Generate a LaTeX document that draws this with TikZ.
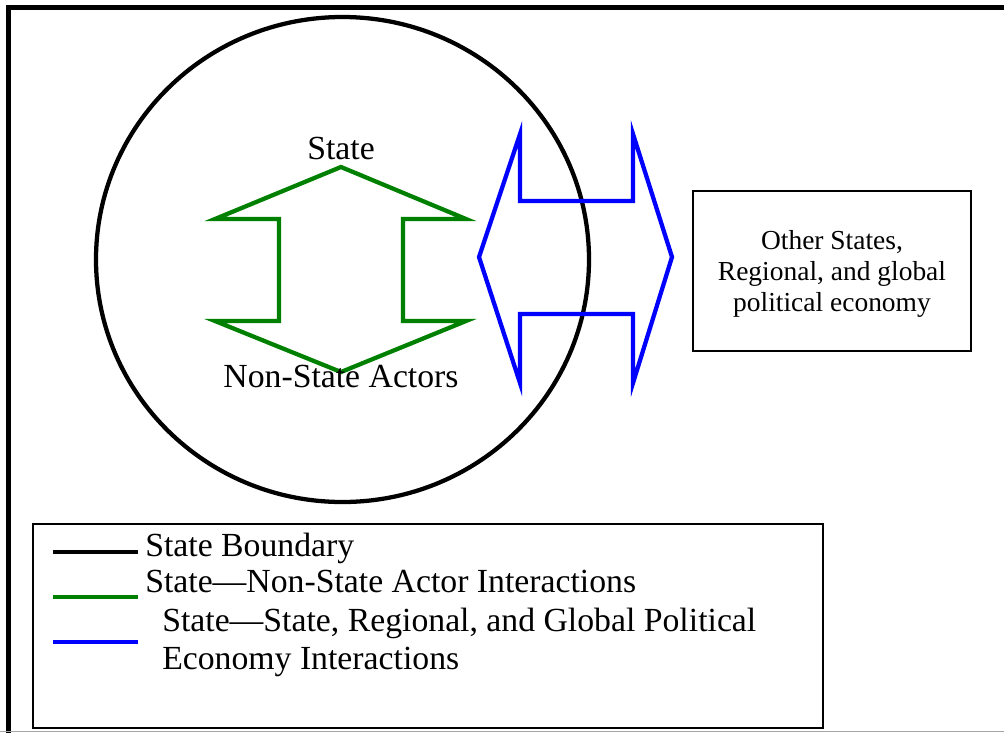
\documentclass[tikz,border=0pt]{standalone}
\usepackage{fontspec}
\setmainfont{Liberation Serif}
\definecolor{actgreen}{RGB}{0,128,0}
\definecolor{ipeblue}{RGB}{0,0,255}
\begin{document}
\begin{tikzpicture}[x=0.75pt,y=-0.75pt,
  bigtext/.style={font=\fontsize{25.3}{30}\selectfont, inner sep=0pt},
  boxtext/.style={font=\fontsize{20.6}{23}\selectfont, align=center},
  greenarrow/.style={draw=actgreen, line width=3.2pt, line join=miter},
  bluearrow/.style={draw=ipeblue, line width=3.2pt, line join=miter},
  keyline/.style={line width=3pt}]
\useasboundingbox (0,0) rectangle (1004,733);

% outer frame
\draw[line width=3.75pt] (8,733) -- (8,7.5) -- (1010,7.5);
\draw[gray!70, line width=1.2pt] (0,731.5) -- (1004,731.5);

% state boundary
\draw[line width=3.2pt] (342.5,259.5) ellipse [x radius=246.5, y radius=242.5];

% state <-> non-state actors
\draw[greenarrow] (341,167) -- (466,219) -- (403,219) -- (403,321) -- (466,321)
  -- (341,372) -- (215,321) -- (279,321) -- (279,219) -- (215,219) -- cycle;

% state <-> other states
\draw[bluearrow] (479,257) -- (520,134) -- (520,201) -- (633,201) -- (633,134)
  -- (672,257) -- (633,383) -- (633,314) -- (520,314) -- (520,383) -- cycle;

\node[bigtext, anchor=base] (state) at (341,159) {State};
\node[bigtext, anchor=base] (nsa) at (341,387) {Non-State Actors};

\node[draw, line width=1.5pt, minimum width=208.5pt, minimum height=120pt, boxtext]
  (other) at (832,271) {};
\node[boxtext] (othertext) at (832,274) {Other States,\\Regional, and global\\political economy};

% legend
\node[draw, line width=1.5pt, minimum width=592.5pt, minimum height=153pt] (legend) at (427.5,626) {};
\coordinate (k1a) at (53,552); \coordinate (k1b) at (138,552);
\coordinate (k2a) at (53,597); \coordinate (k2b) at (138,597);
\coordinate (k3a) at (53,642); \coordinate (k3b) at (138,642);
\draw[keyline, black] (k1a) -- (k1b);
\draw[keyline, actgreen] (k2a) -- (k2b);
\draw[keyline, ipeblue] (k3a) -- (k3b);
\node[bigtext, anchor=base west] (l1) at (145,556) {State Boundary};
\node[bigtext, anchor=base west] (l2) at (145,592) {State---Non-State Actor Interactions};
\node[bigtext, anchor=base west] (l3) at (162,631) {State---State, Regional, and Global Political};
\node[bigtext, anchor=base west] (l4) at (162,669) {Economy Interactions};
\end{tikzpicture}
\end{document}
